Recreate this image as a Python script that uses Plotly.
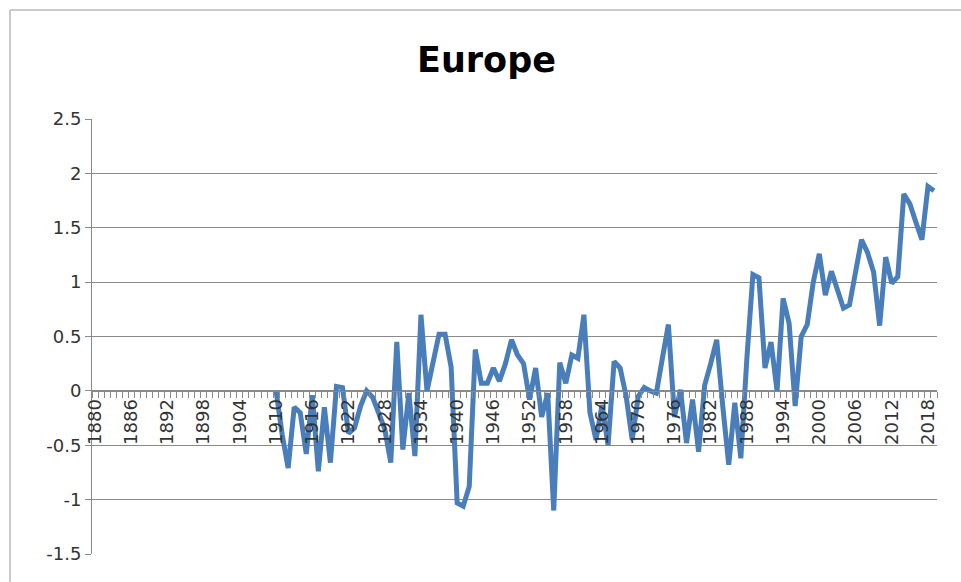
import plotly.graph_objects as go

# Category years shown on the axis (labels every 6 years)
years = list(range(1880, 2020))

# Annual temperature anomaly for Europe, 1910-2019 (°C)
first_year = 1910
anomaly = [
    0.00, -0.40, -0.71, -0.15, -0.20, -0.58, -0.04, -0.74, -0.15, -0.66,   # 1910s
    0.04, 0.03, -0.39, -0.34, -0.14, 0.00, -0.06, -0.20, -0.35, -0.66,     # 1920s
    0.45, -0.54, -0.02, -0.60, 0.70, 0.00, 0.27, 0.52, 0.52, 0.22,         # 1930s
    -1.03, -1.06, -0.88, 0.38, 0.07, 0.07, 0.21, 0.09, 0.25, 0.47,         # 1940s
    0.33, 0.25, -0.08, 0.21, -0.24, -0.02, -1.10, 0.26, 0.07, 0.33,        # 1950s
    0.30, 0.70, -0.20, -0.45, -0.13, -0.50, 0.27, 0.21, -0.05, -0.45,      # 1960s
    -0.05, 0.03, 0.00, -0.02, 0.30, 0.61, -0.24, 0.01, -0.48, -0.08,       # 1970s
    -0.56, 0.05, 0.25, 0.47, -0.14, -0.68, -0.11, -0.62, 0.30, 1.07,       # 1980s
    1.04, 0.21, 0.45, 0.00, 0.85, 0.62, -0.14, 0.50, 0.61, 1.00,           # 1990s
    1.26, 0.88, 1.10, 0.93, 0.76, 0.79, 1.10, 1.39, 1.27, 1.09,            # 2000s
    0.60, 1.23, 0.99, 1.05, 1.81, 1.72, 1.55, 1.39, 1.88, 1.84,            # 2010s
]

y_ticks = [-1.5, -1, -0.5, 0, 0.5, 1, 1.5, 2, 2.5]
y_tick_text = ["-1.5", "-1", "-0.5", "0", "0.5", "1", "1.5", "2", "2.5"]

values = [None] * (first_year - years[0]) + anomaly
assert len(values) == len(years)

W, H = 961, 582
L, R, T, B = 92, 24, 119, 28
plot_w, plot_h = W - L - R, H - T - B

def px_x(px):
    return (px - L) / plot_w

def px_y(py):
    return (H - B - py) / plot_h

grid = "#8a8a8a"
text_col = "#333333"
font_family = "DejaVu Sans"

fig = go.Figure()
fig.add_trace(go.Scatter(
    x=years, y=values, mode="lines",
    line=dict(color="#4a7ebb", width=5),
    connectgaps=False, hoverinfo="skip",
))

fig.update_layout(
    width=W, height=H,
    margin=dict(l=L, r=R, t=T, b=B, pad=0),
    paper_bgcolor="white", plot_bgcolor="white",
    showlegend=False,
    font=dict(family=font_family, size=18, color=text_col),
    xaxis=dict(
        range=[years[0] - 0.5, years[-1] + 0.5],
        anchor="free", position=(0 - y_ticks[0]) / (y_ticks[-1] - y_ticks[0]),
        tickmode="linear", tick0=years[0], dtick=6,
        tickangle=-90, ticks="", ticklen=0,
        showgrid=False, zeroline=False,
        showline=True, linecolor=grid, linewidth=1,
        minor=dict(ticks="outside", tick0=years[0] - 0.5, dtick=1,
                   ticklen=6, tickcolor=grid, tickwidth=1, showgrid=False),
        tickfont=dict(size=18, color=text_col, family=font_family),
    ),
    yaxis=dict(
        range=[y_ticks[0], y_ticks[-1]],
        tickmode="array", tickvals=y_ticks, ticktext=y_tick_text,
        ticks="outside", ticklen=6, tickcolor=grid,
        showgrid=True, gridcolor=grid, gridwidth=1,
        zeroline=False,
        showline=True, linecolor=grid, linewidth=1,
        tickfont=dict(size=18, color=text_col, family=font_family),
    ),
    annotations=[dict(
        text="<b>Europe</b>", showarrow=False,
        xref="paper", yref="paper",
        x=px_x(486), y=px_y(60), xanchor="center", yanchor="middle",
        font=dict(size=35, color="#000000", family=font_family),
    )],
    shapes=[
        # chart-area border (left and top edges)
        dict(type="line", xref="paper", yref="paper",
             x0=px_x(10), x1=px_x(10), y0=px_y(10), y1=px_y(600),
             line=dict(color="#b8b8b8", width=1.5)),
        dict(type="line", xref="paper", yref="paper",
             x0=px_x(10), x1=px_x(980), y0=px_y(10), y1=px_y(10),
             line=dict(color="#b8b8b8", width=1.5)),
    ],
)

fig.write_html("out.html")
